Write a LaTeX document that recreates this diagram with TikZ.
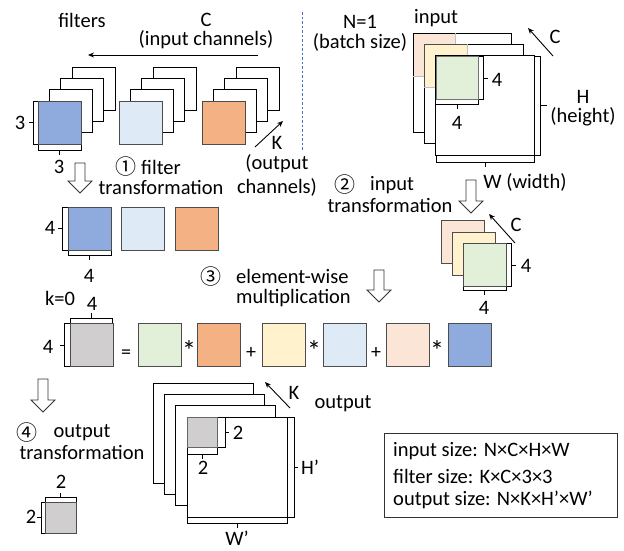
\documentclass[tikz,border=0pt]{standalone}
\usepackage{fontspec}
\setmainfont{Carlito}
\newfontfamily\circfont{Noto Sans CJK JP}
\usetikzlibrary{arrows.meta}
\definecolor{cblue}{HTML}{8FAADC}
\definecolor{clblue}{HTML}{DEEBF7}
\definecolor{corange}{HTML}{F4B183}
\definecolor{cpink}{HTML}{FBE5D6}
\definecolor{cyellow}{HTML}{FFF2CC}
\definecolor{cgreen}{HTML}{E2F0D9}
\definecolor{cgray}{HTML}{D0CECE}
\definecolor{cdash}{HTML}{4472C4}
\newcommand\fs{\fontsize{20.5}{20}\selectfont}
\newcommand\fsm{\fontsize{20}{20}\selectfont}
\newcommand\fsa{\fontsize{28}{28}\selectfont}
\newcommand\fsc{\circfont\fontsize{21}{21}\selectfont}
\newcommand\hollowarrow[3]{%
  \draw[harrow] (#1-5,#2) -- (#1+5,#2) -- (#1+5,#3-12) -- (#1+12,#3-12) -- (#1,#3) -- (#1-12,#3-12) -- (#1-5,#3-12) -- cycle;}
\newcommand\fstack[4]{%
  \foreach \i in {3,2,1} {\draw[wsq] (#1+\i*11.3,#2-\i*11.3) rectangle ++(43,43);}
  \node[csq, fill=#3, minimum size=43, anchor=north west] (#4) at (#1,#2) {};}
\begin{document}
\begin{tikzpicture}[x=1pt,y=-1pt,
  csq/.style={draw=black!70, line width=0.8pt, inner sep=0pt},
  wsq/.style={draw=black, fill=white, line width=0.8pt},
  brk/.style={draw=black, line width=1pt},
  lbl/.style={font=\fs, inner sep=0pt},
  sym/.style={font=\fsm, inner sep=0pt, anchor=base},
  ast/.style={font=\fsa, inner sep=0pt, anchor=base},
  harrow/.style={draw=black!80, fill=white, line width=0.8pt},
  arr/.style={draw=black, line width=0.9pt, -{Stealth[length=6pt,width=5pt]}},
]
\path[use as bounding box] (0,0) rectangle (624,550);

% ---------------- filters ----------------
\node[lbl] (tfilters) at (82,20) {filters};
\node[lbl] (tC1) at (206,20) {C};
\node[lbl] (tC1b) at (206,40) {(input channels)};
\coordinate (cA) at (258,55); \coordinate (cB) at (88,55);
\draw[arr] (cA) -- (cB);

\draw[brk] (38,101) -- (33,101) -- (33,144) -- (38,144) (33,122.5) -- (29,122.5);
\draw[brk] (38,144) -- (38,150) -- (81,150) -- (81,144) (59.5,150) -- (59.5,155);
\fstack{38}{101}{cblue}{f1}
\fstack{119}{101}{clblue}{f2}
\fstack{202}{101}{corange}{f3}
\node[lbl] (t3a) at (20,123) {3};
\node[lbl] (t3b) at (59,167) {3};

\coordinate (kA) at (255,147); \coordinate (kB) at (283,121);
\draw[arr] (kA) -- (kB);
\node[lbl] (tK1) at (277,143) {K};
\node[lbl] (tK1b) at (277,164) {(output};
\node[lbl] (tK1c) at (277,187) {channels)};

\hollowarrow{80}{163}{193}
\node[lbl] (c1) at (126,167) {\fsc ①};
\node[lbl] (tft1) at (161,167) {filter};
\node[lbl] (tft2) at (161,187) {transformation};

\coordinate (dA) at (302,12); \coordinate (dB) at (302,150);
\draw[cdash, line width=0.8pt, dash pattern=on 2.5pt off 2pt] (dA) -- (dB);

% transformed filters
\draw[brk] (68,207) -- (62,207) -- (62,250) -- (68,250) (62,228) -- (58,228);
\draw[brk] (68,250) -- (68,255) -- (111,255) -- (111,250) (89.5,255) -- (89.5,260);
\node[csq, fill=cblue, minimum size=43, anchor=north west] (g1) at (68,207) {};
\node[csq, fill=clblue, minimum size=43, anchor=north west] (g2) at (121,207) {};
\node[csq, fill=corange, minimum size=43, anchor=north west] (g3) at (175,207) {};
\node[lbl] (t4a) at (50,228) {4};
\node[lbl] (t4b) at (89,276) {4};

% ---------------- input ----------------
\node[lbl] (tN) at (360,22) {N=1};
\node[lbl] (tNb) at (360,42) {(batch size)};
\node[lbl] (tinput) at (436,18) {input};
\coordinate (iA) at (553,56); \coordinate (iB) at (528,28);
\draw[arr] (iA) -- (iB);
\node[lbl] (tC2) at (555,37) {C};

\draw[brk] (534,56) -- (540,56) -- (540,155) -- (534,155) (540,105) -- (547,105);
\draw[brk] (436,155) -- (436,162) -- (534,162) -- (534,155) (485,162) -- (485,167);
\draw[wsq] (413,33) rectangle ++(98,99);
\draw[fill=cpink, draw=black!25, line width=0.6pt] (413,33) rectangle ++(42,43);
\draw[black, line width=0.8pt] (413,76) -- (413,33) -- (455,33);
\draw[wsq] (424.3,44.3) rectangle ++(98.7,99.3);
\draw[fill=cyellow, draw=black!25, line width=0.6pt] (424.3,44.3) rectangle ++(42.7,43);
\draw[black!70, line width=0.8pt] (424.3,87.3) -- (424.3,44.3) -- (467,44.3);
\draw[wsq] (435.6,55.6) rectangle (534,155);
\draw[brk] (478,56) -- (483,56) -- (483,99) -- (478,99) (483,78) -- (488,78);
\draw[brk] (435.6,99) -- (435.6,104) -- (478,104) -- (478,99) (457,104) -- (457,109);
\node[csq, fill=cgreen, draw=black!55, minimum width=42.5, minimum height=43.5, anchor=north west] (ig) at (435.6,55.6) {};
\node[lbl] (t4c) at (497,80) {4};
\node[lbl] (t4d) at (457,123) {4};
\node[lbl] (tH) at (583,97) {H};
\node[lbl] (tHb) at (583,117) {(height)};
\node[lbl] (tW) at (525,182) {W (width)};

\hollowarrow{471}{180}{213}
\node[lbl] (c2) at (345,185) {\fsc ②};
\node[lbl] (tit1) at (392,185) {input};
\node[lbl] (tit2) at (390,205) {transformation};

% transformed input
\node[csq, fill=cpink, minimum size=43, anchor=north west] (s1) at (441,220) {};
\node[csq, fill=cyellow, minimum size=43, anchor=north west] (s2) at (452,231.5) {};
\draw[brk] (506,243) -- (511,243) -- (511,286) -- (506,286) (511,265) -- (516,265);
\draw[brk] (463,286) -- (463,290) -- (506,290) -- (506,286) (484.5,290) -- (484.5,295);
\node[csq, fill=cgreen, minimum size=43, anchor=north west] (s3) at (463,243) {};
\coordinate (jA) at (515,243); \coordinate (jB) at (489,214);
\draw[arr] (jA) -- (jB);
\node[lbl] (tC3) at (516,225) {C};
\node[lbl] (t4e) at (526,266) {4};
\node[lbl] (t4f) at (484,308) {4};

% ---------------- element-wise ----------------
\node[lbl] (c3) at (211,277) {\fsc ③};
\node[lbl, anchor=base west] (tew1) at (236,283) {element-wise};
\node[lbl, anchor=base west] (tew2) at (236,303) {multiplication};
\hollowarrow{379}{270}{302}

\node[lbl] (tk0) at (60,298) {k=0};
\draw[brk] (70,323) -- (70,318) -- (112,318) -- (112,323) (91,318) -- (91,313);
\draw[brk] (70,323) -- (64,323) -- (64,366) -- (70,366) (64,345) -- (60,345);
\node[csq, fill=cgray, minimum size=43, anchor=north west] (r0) at (70,323) {};
\node[lbl] (t4g) at (92,304) {4};
\node[lbl] (t4h) at (48,347) {4};

\node[csq, fill=cgreen, minimum size=43, anchor=north west] (r1) at (138,323) {};
\node[csq, fill=corange, minimum size=43, anchor=north west] (r2) at (197,323) {};
\node[csq, fill=cyellow, minimum size=43, anchor=north west] (r3) at (262,323) {};
\node[csq, fill=clblue, minimum size=43, anchor=north west] (r4) at (323,323) {};
\node[csq, fill=cpink, minimum size=43, anchor=north west] (r5) at (386,323) {};
\node[csq, fill=cblue, minimum size=43, anchor=north west] (r6) at (448,323) {};
\node[sym] (e0) at (126,358) {=};
\node[ast] (e1) at (189,360) {*};
\node[sym] (e2) at (251,358) {+};
\node[ast] (e3) at (314,360) {*};
\node[sym] (e4) at (376,358) {+};
\node[ast] (e5) at (437,360) {*};

% ---------------- output ----------------
\hollowarrow{43}{379}{412}
\node[lbl] (c4) at (27,433) {\fsc ④};
\node[lbl] (tot1) at (82,433) {output};
\node[lbl] (tot2) at (82,452) {transformation};

\draw[brk] (45,502) -- (45,497) -- (76,497) -- (76,502) (60.5,497) -- (60.5,493);
\draw[brk] (45,502) -- (41,502) -- (41,533) -- (45,533) (41,517.5) -- (37,517.5);
\node[csq, fill=cgray, minimum size=31, anchor=north west] (og) at (45,502) {};
\node[lbl] (t2a) at (61,482) {2};
\node[lbl] (t2b) at (31,517) {2};

\draw[brk] (287,417) -- (294,417) -- (294,517) -- (287,517) (294,467) -- (298,467);
\draw[brk] (187,517) -- (187,523) -- (287,523) -- (287,517) (237,523) -- (237,528);
\draw[wsq] (153,383) rectangle ++(100,100);
\draw[wsq] (164.3,394.3) rectangle ++(100,100);
\draw[wsq] (175.7,405.7) rectangle ++(100,100);
\draw[wsq] (187,417) rectangle (287,517);
\draw[brk] (217,417) -- (225,417) -- (225,447) -- (217,447) (225,432) -- (229,432);
\draw[brk] (187,447) -- (187,454) -- (217,454) -- (217,447) (202,454) -- (202,459);
\node[csq, fill=cgray, draw=black!60, minimum size=30, anchor=north west] (pg) at (187,417) {};
\node[lbl] (t2c) at (238,433) {2};
\node[lbl] (t2d) at (203,468) {2};
\node[lbl] (tHp) at (310,467) {H’};
\node[lbl] (tWp) at (237,538) {W’};
\coordinate (oA) at (290,408); \coordinate (oB) at (265,382);
\draw[arr] (oA) -- (oB);
\node[lbl] (tK2) at (294,393) {K};
\node[lbl] (toutput) at (343,404) {output};

% info box
\node[draw=black!80, line width=0.9pt, minimum width=233, minimum height=84, anchor=north west, inner sep=0pt] (info) at (384,433) {};
\node[lbl, anchor=west] (i1) at (393,451) {input size: N×C×H×W};
\node[lbl, anchor=west] (i2) at (393,476) {filter size: K×C×3×3};
\node[lbl, anchor=west] (i3) at (393,500) {output size: N×K×H’×W’};
\end{tikzpicture}
\end{document}
